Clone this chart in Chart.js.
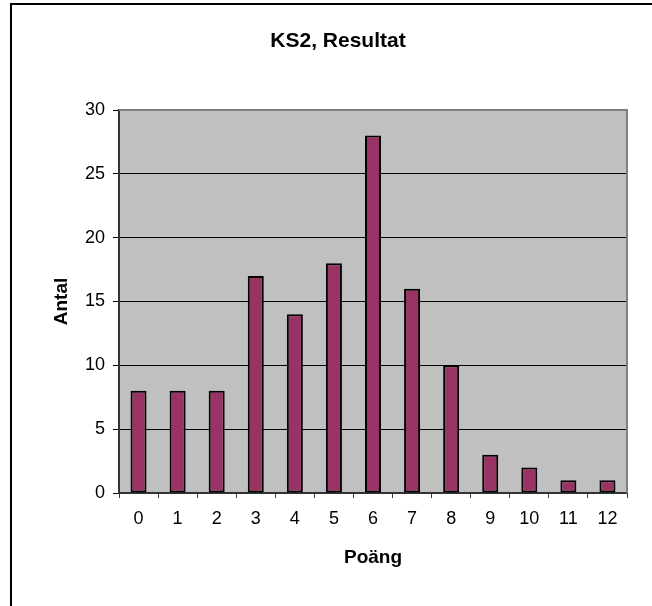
<!DOCTYPE html>
<html>
<head>
<meta charset="utf-8">
<script src="https://cdn.jsdelivr.net/npm/chart.js@4"></script>
<style>
  html, body { margin: 0; padding: 0; background: #fff; overflow: hidden; }
  #wrap { width: 652px; height: 606px; position: relative; }
</style>
</head>
<body>
<div id="wrap"><canvas id="c" width="652" height="606"></canvas></div>
<script>
// KS2 results: number of pupils (Antal) per score (Poäng)
const categories = ["0", "1", "2", "3", "4", "5", "6", "7", "8", "9", "10", "11", "12"];
const counts = [8, 8, 8, 17, 14, 18, 28, 16, 10, 3, 2, 1, 1];
const yTicks = [0, 5, 10, 15, 20, 25, 30];

const FONT = "'Liberation Sans', Arial, sans-serif";

// white page, partial black frame, grey plot background, chart title
const excelLook = {
  id: "excelLook",
  beforeDraw(chart) {
    const { ctx, chartArea: a } = chart;
    ctx.save();
    ctx.fillStyle = "#fff";
    ctx.fillRect(0, 0, chart.width, chart.height);
    ctx.strokeStyle = "#000";
    ctx.lineWidth = 2;
    ctx.strokeRect(11, 4, chart.width + 20, chart.height + 20);
    ctx.fillStyle = "#c0c0c0";
    ctx.fillRect(a.left, a.top, a.right - a.left, a.bottom - a.top);
    ctx.restore();
  },
  afterDatasetsDraw(chart) {
    const { ctx, chartArea: a } = chart;
    ctx.save();
    ctx.strokeStyle = "#808080";
    ctx.lineWidth = 2;
    ctx.beginPath();
    ctx.moveTo(a.left, a.top);
    ctx.lineTo(a.right, a.top);
    ctx.lineTo(a.right, a.bottom);
    ctx.stroke();
    ctx.fillStyle = "#000";
    ctx.font = "bold 21px " + FONT;
    ctx.textAlign = "center";
    ctx.textBaseline = "middle";
    ctx.fillText("KS2, Resultat", 338, 41);
    ctx.restore();
  },
};

new Chart(document.getElementById("c"), {
  type: "bar",
  data: {
    labels: categories,
    datasets: [{
      data: counts,
      backgroundColor: "#993366",
      borderColor: "#000",
      borderWidth: 2,
      borderSkipped: false,
      barPercentage: 0.41,
      categoryPercentage: 1,
    }],
  },
  options: {
    responsive: false,
    animation: false,
    devicePixelRatio: 1,
    layout: { padding: { left: 0, top: 110, right: 25, bottom: 0 } },
    plugins: { legend: { display: false }, tooltip: { enabled: false }, title: { display: false } },
    scales: {
      x: {
        afterFit: (s) => { s.height = 113; },
        grid: {
          offset: true,
          drawOnChartArea: false,
          color: "#333",
          lineWidth: 1,
          tickLength: 5,
        },
        border: { color: "#333", width: 2 },
        ticks: { color: "#000", font: { family: FONT, size: 18 }, padding: 10 },
        title: {
          display: true,
          text: "Poäng",
          color: "#000",
          font: { family: FONT, size: 19, weight: "bold" },
          padding: { top: 0, bottom: 37 },
        },
      },
      y: {
        min: 0,
        max: 30,
        afterFit: (s) => { s.width = 119; },
        afterBuildTicks: (s) => { s.ticks = yTicks.map((v) => ({ value: v })); },
        grid: {
          color: "#000",
          lineWidth: 1,
          tickLength: 6,
        },
        border: { color: "#333", width: 2 },
        ticks: { color: "#000", font: { family: FONT, size: 18 }, padding: 8 },
        title: {
          display: true,
          text: "Antal",
          color: "#000",
          font: { family: FONT, size: 19, weight: "bold" },
          padding: { top: 50, bottom: 0 },
        },
      },
    },
  },
  plugins: [excelLook],
});
</script>
</body>
</html>
